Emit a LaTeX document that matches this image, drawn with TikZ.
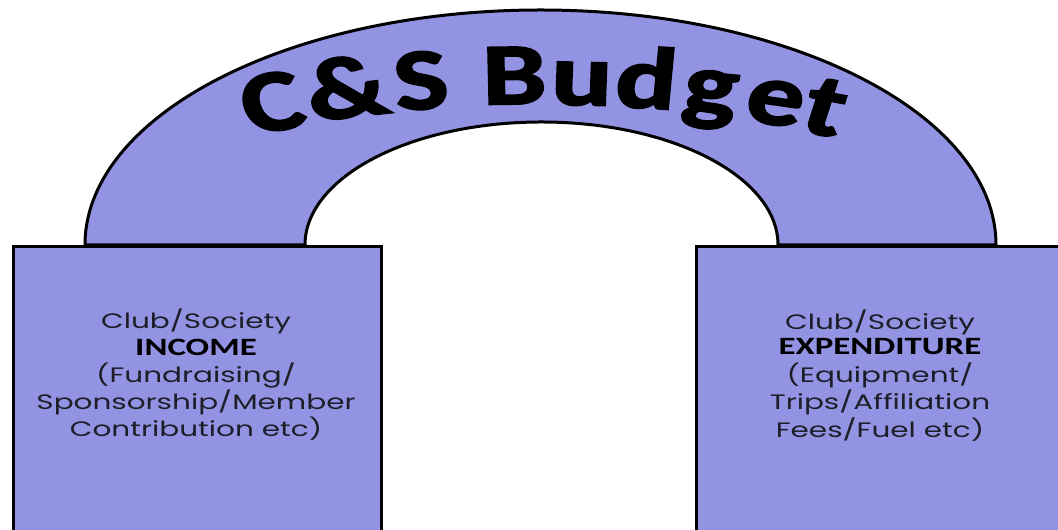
\documentclass[tikz,border=0pt]{standalone}
\usepackage{fontspec}
\setmainfont{Poppins}
\newfontfamily\carl{Carlito}
\newfontfamily\carlheavy{Carlito}[FakeBold=2.2]
\newfontfamily\gothic{Poppins}
\definecolor{archfill}{RGB}{146,148,227}
\definecolor{bodyink}{RGB}{30,30,40}
\begin{document}
\begin{tikzpicture}[x=1bp,y=1bp,
  boxshape/.style={draw=black, line width=3bp, fill=archfill, rectangle, inner sep=0pt},
  titlechar/.style={font=\carlheavy\bfseries\fontsize{88}{88}\selectfont, anchor=base, xscale=1.3, inner sep=0pt},
  bodytext/.style={font=\gothic\fontsize{21}{25}\selectfont, text=bodyink, anchor=base, xscale=1.41, inner sep=0pt},
  headtext/.style={font=\carl\bfseries\fontsize{25}{25}\selectfont, text=black, anchor=base, xscale=1.4, inner sep=0pt}]
\useasboundingbox (0,0) rectangle (1058,530);
\clip (0,0) rectangle (1058,530);
% arch
\draw[line width=3bp, fill=archfill] (85,285)
  arc[start angle=180, end angle=0, x radius=455.5, y radius=235] -- (778,285)
  arc[start angle=0, end angle=180, x radius=236.5, y radius=123] -- cycle;
% title letters along the arch
\node[titlechar, rotate=12.6] (t1) at (280,400) {C};
\node[titlechar, rotate=8.3] (t2) at (352,413) {\&};
\node[titlechar, rotate=4.9] (t3) at (424,421) {S};
\node[titlechar, rotate=1.0] (t4) at (515,426) {B};
\node[titlechar, rotate=-1.6] (t5) at (581,425) {u};
\node[titlechar, rotate=-4.2] (t6) at (644,422) {d};
\node[titlechar, rotate=-7.1] (t7) at (707,416) {g};
\node[titlechar, rotate=-10.5] (t8) at (770,406) {e};
\node[titlechar, rotate=-13.8] (t9) at (817,396) {t};
% boxes
\node[boxshape, anchor=north west, minimum width=368bp, minimum height=320bp] (income) at (12,285) {};
\node[boxshape, anchor=north west, minimum width=371bp, minimum height=320bp] (expend) at (695,285) {};
% income text
\node[bodytext] (l1) at (196,201) {Club/Society};
\node[headtext] (l2) at (196,174) {INCOME};
\node[bodytext] (l3) at (196,147) {(Fundraising/};
\node[bodytext] (l4) at (196,120) {Sponsorship/Member};
\node[bodytext] (l5) at (196,93) {Contribution etc)};
% expenditure text
\node[bodytext] (r1) at (880,200) {Club/Society};
\node[headtext] (r2) at (880,175) {EXPENDITURE};
\node[bodytext] (r3) at (880,147) {(Equipment/};
\node[bodytext] (r4) at (880,120) {Trips/Affiliation};
\node[bodytext] (r5) at (880,92) {Fees/Fuel etc)};
\end{tikzpicture}
\end{document}
